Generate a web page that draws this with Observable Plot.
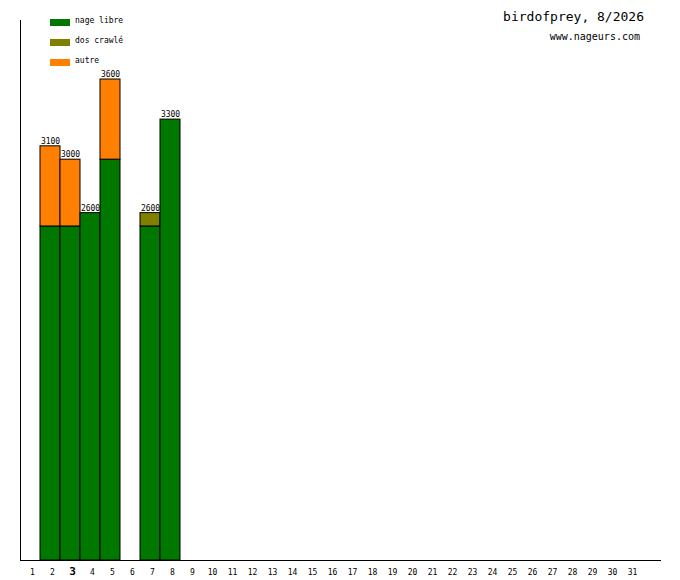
<!DOCTYPE html>
<html><head><meta charset="utf-8">
<script src="https://cdn.jsdelivr.net/npm/d3@7"></script>
<script src="https://cdn.jsdelivr.net/npm/@observablehq/plot@0.6"></script>
<style>
body{margin:0;background:#fff;font-family:"DejaVu Sans Mono",monospace;}
#wrap{position:relative;width:680px;height:580px;}
.abs{position:absolute;white-space:nowrap;}
.sw{position:absolute;width:20px;height:7px;}
</style></head><body>
<div id="wrap"></div>
<script>
const days = d3.range(1, 32);
const series = ["nage libre", "dos crawlé", "autre"];
const colors = ["#007800", "#808000", "#ff8000"];
const barDays = [2, 3, 4, 5, 7, 8];
const nageLibre = [2500, 2500, 2600, 3000, 2500, 3300];
const dosCrawle = [0, 0, 0, 0, 100, 0];
const autre = [600, 500, 0, 600, 0, 0];
const today = 3;

const rows = [];
barDays.forEach((d, i) => {
  [nageLibre, dosCrawle, autre].forEach((arr, k) => {
    if (arr[i] > 0) rows.push({day: d, series: series[k], value: arr[i]});
  });
});
const totals = barDays.map((d, i) => ({day: d, total: nageLibre[i] + dosCrawle[i] + autre[i]}));

const plot = Plot.plot({
  width: 680, height: 580,
  marginLeft: 20, marginRight: 20, marginTop: 20, marginBottom: 20,
  x: {type: "band", domain: days, range: [20, 640], padding: 0, axis: null},
  y: {domain: [0, 3600], range: [560, 79], axis: null},
  color: {domain: series, range: colors},
  style: {fontFamily: "DejaVu Sans Mono, monospace"},
  marks: [
    Plot.barY(rows, Plot.stackY({x: "day", y: "value", fill: "series", stroke: "black", strokeWidth: 1, order: series})),
    Plot.text(totals, {x: "day", y: "total", text: d => String(d.total), dy: -5, fontSize: 8, fill: "black"}),
    Plot.text(days.filter(d => d !== today), {x: d => d, text: d => String(d), frameAnchor: "bottom", dy: 14, dx: 2, fontSize: 8, fill: "black"}),
    Plot.text([today], {x: d => d, text: d => String(d), frameAnchor: "bottom", dy: 14, dx: 2, fontSize: 11, fontWeight: "bold", fill: "black"}),
    Plot.frame({anchor: "left", stroke: "black"}),
    Plot.frame({anchor: "bottom", stroke: "black"})
  ]
});
const wrap = document.getElementById("wrap");
wrap.appendChild(plot);
plot.style.position = "absolute"; plot.style.left = "0"; plot.style.top = "0";

function add(html, css){const e=document.createElement("div");e.className="abs";e.textContent=html;Object.assign(e.style,css);wrap.appendChild(e);}
add("birdofprey, 8/2026", {right:"36px", top:"9px", fontSize:"13px"});
add("www.nageurs.com", {right:"40px", top:"31px", fontSize:"10px"});
series.forEach((s, i) => {
  const sw = document.createElement("div"); sw.className="sw";
  Object.assign(sw.style,{left:"50px", top:(19+20*i)+"px", background:colors[i]});
  wrap.appendChild(sw);
  add(s, {left:"75px", top:(16+20*i)+"px", fontSize:"8px"});
});
</script></body></html>
